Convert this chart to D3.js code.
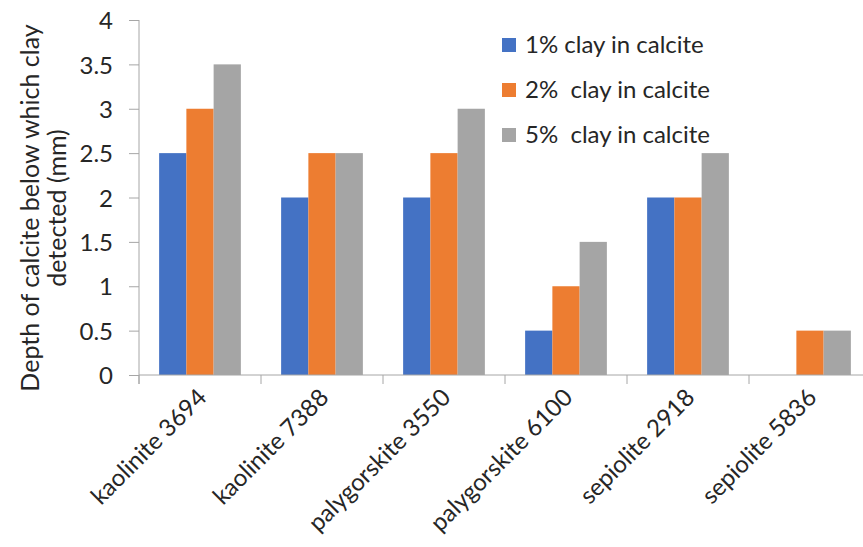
<!DOCTYPE html>
<html><head><meta charset="utf-8">
<script src="https://cdn.jsdelivr.net/npm/d3@7"></script>
<style>body{margin:0;background:#fff}svg{display:block}text{font-family:Lato,sans-serif}</style>
</head><body><svg id="c" width="863" height="547"></svg>
<script>
const categories = ["kaolinite 3694","kaolinite 7388","palygorskite 3550","palygorskite 6100","sepiolite 2918","sepiolite 5836"];
const seriesNames = ["1% clay in calcite","2%  clay in calcite","5%  clay in calcite"];
const clay1 = [2.5,2,2,0.5,2,0];
const clay2 = [3,2.5,2.5,1,2,0.5];
const clay5 = [3.5,2.5,3,1.5,2.5,0.5];
const yTicks = [0,0.5,1,1.5,2,2.5,3,3.5,4];
const colors = ["#4472C4","#ED7D31","#A5A5A5"];
const series = [clay1, clay2, clay5];

const svg = d3.select("#c");
const x0 = d3.scaleBand().domain(categories).range([139,871]).paddingInner(0.33).paddingOuter(0.165);
const x1 = d3.scaleBand().domain(d3.range(3)).range([0, x0.bandwidth()]);
const y = d3.scaleLinear().domain([0,4]).range([375,20]);
const axisColor = "#a6a6a6";
const textColor = "#262626";

// bars
categories.forEach((c,i)=>{
  series.forEach((s,j)=>{
    if (s[i] > 0) svg.append("rect")
      .attr("x", x0(c)+x1(j)).attr("width", x1.bandwidth())
      .attr("y", y(s[i])).attr("height", y(0)-y(s[i]))
      .attr("fill", colors[j]);
  });
});

// y axis
const ya = svg.append("g").attr("transform","translate(139,0)")
  .call(d3.axisLeft(y).tickValues(yTicks).tickSize(10).tickPadding(16).tickFormat(d3.format("")));
ya.attr("font-family",null).attr("font-size",null);
ya.select(".domain").attr("stroke",axisColor).attr("d","M0,20V384");
ya.selectAll(".tick line").attr("stroke",axisColor);
ya.selectAll(".tick text").attr("font-size",24).attr("fill",textColor).attr("dy","0.36em");

// x axis
const xa = svg.append("g").attr("transform","translate(0,375)");
xa.append("line").attr("x1",139).attr("x2",871).attr("stroke",axisColor);
const step = x0.step();
d3.range(7).forEach(k=>{
  const xx = 139 + k*step;
  xa.append("line").attr("x1",xx).attr("x2",xx).attr("y1",0).attr("y2",9).attr("stroke",axisColor);
});
categories.forEach(c=>{
  const cx = x0(c)+x0.bandwidth()/2;
  xa.append("text").attr("transform",`translate(${cx+8},${24}) rotate(-45)`)
    .attr("text-anchor","end").attr("font-size",24).attr("fill",textColor).text(c);
});

// y title
const yt = svg.append("text").attr("transform","translate(0,208) rotate(-90)")
  .attr("text-anchor","middle").attr("font-size",25).attr("fill",textColor);
yt.append("tspan").attr("x",0).attr("y",39).text("Depth of calcite below which clay");
yt.append("tspan").attr("x",0).attr("y",66).text("detected (mm)");

// legend
seriesNames.forEach((n,j)=>{
  const ly = 45 + j*45;
  svg.append("rect").attr("x",502).attr("y",ly-7).attr("width",14).attr("height",14).attr("fill",colors[j]);
  svg.append("text").attr("x",525).attr("y",ly+8).attr("font-size",24).attr("fill",textColor)
    .style("white-space","pre").text(n);
});
</script></body></html>
